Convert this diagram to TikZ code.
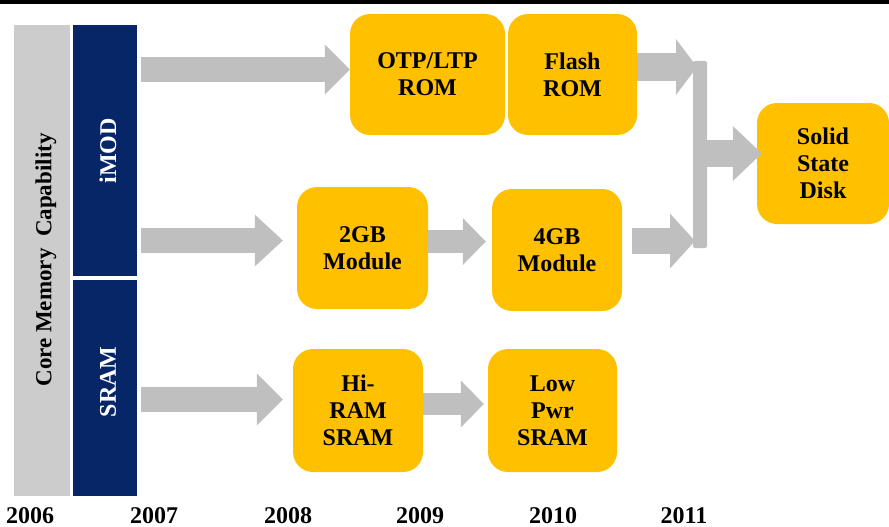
\documentclass[tikz,border=0pt]{standalone}
\usepackage{fontspec}
\setmainfont{Liberation Serif}
\usetikzlibrary{arrows.meta}
\definecolor{ygold}{HTML}{FFC000}
\definecolor{agray}{HTML}{BFBFBF}
\definecolor{cgray}{HTML}{CCCCCC}
\definecolor{navyc}{HTML}{062668}
\begin{document}
\begin{tikzpicture}[x=1pt,y=-1pt,
  box/.style={fill=ygold, rounded corners=20pt, align=center, inner sep=0pt,
    font=\bfseries\fontsize{24}{27}\selectfont},
  blk/.style n args={3}{draw=agray, line width=#1,
    -{Triangle[length=#2, width=#3, line width=0pt]}},
  navybox/.style={fill=navyc, inner sep=0pt, rotate=90, minimum height=64pt,
    text=white, font=\bfseries\fontsize{23}{27}\selectfont},
  year/.style={anchor=base, inner sep=0pt, font=\bfseries\fontsize{24}{28}\selectfont}]
\useasboundingbox (0,0) rectangle (889,527);
% top bar
\fill[black] (0,0) rectangle (889,4);
% left columns
\node[fill=cgray, rotate=90, minimum width=471pt, minimum height=56pt, inner sep=0pt] (core) at (42,260.5) {};
\node[rotate=90, inner sep=0pt, font=\bfseries\fontsize{23}{27}\selectfont] (coret) at (46,260) {Core Memory\ \ Capability};
\node[navybox, minimum width=251pt] (imod) at (105,150.5) {};
\node[rotate=90, inner sep=0pt, text=white, font=\bfseries\fontsize{24}{27}\selectfont] (imodt) at (108,151) {iMOD};
\node[navybox, minimum width=216pt] (sram) at (105,388) {};
\node[rotate=90, inner sep=0pt, text=white, font=\bfseries\fontsize{24}{27}\selectfont] (sramt) at (108,382) {SRAM};
\coordinate (navyR) at (137,0);
% boxes
\node[box, minimum width=155pt, minimum height=121pt] (otp) at (427.5,74.5) {OTP/LTP\\ROM};
\node[box, minimum width=129pt, minimum height=121pt] (flash) at (572.5,74.5) {Flash\\ROM};
\node[box, minimum width=131pt, minimum height=122pt] (m2) at (362.5,248) {2GB\\Module};
\node[box, minimum width=130pt, minimum height=122pt] (m4) at (557,250) {4GB\\Module};
\node[box, minimum width=130pt, minimum height=123pt] (hiram) at (358,410.5) {Hi-\\RAM\\SRAM};
\node[box, minimum width=129pt, minimum height=123pt] (lowp) at (552.5,410.5) {Low\\Pwr\\SRAM};
\node[box, minimum width=132pt, minimum height=121pt] (ssd) at (823,163.5) {Solid\\State\\Disk};
% arrows
\draw[blk={25pt}{25pt}{50pt}] ([xshift=4pt]navyR |- 0,69.5) -- (otp.west |- 0,69.5);
\draw[blk={25pt}{28pt}{52pt}] ([xshift=4pt]navyR |- 0,240.5) -- ([xshift=-14pt]m2.west |- 0,240.5);
\draw[blk={25pt}{26pt}{52pt}] ([xshift=4pt]navyR |- 0,399.5) -- ([xshift=-10pt]hiram.west |- 0,399.5);
\draw[blk={23pt}{23pt}{47pt}] (m2.east |- 0,241.5) -- ([xshift=-6pt]m4.west |- 0,241.5);
\draw[blk={22pt}{23pt}{47pt}] (hiram.east |- 0,404) -- ([xshift=-4pt]lowp.west |- 0,404);
% merge
\coordinate (mtop) at (700,61);
\coordinate (mbot) at (700,248);
\fill[agray, rounded corners=2pt] ([xshift=-7pt]mtop) rectangle ([xshift=7pt]mbot);
\draw[blk={28pt}{21pt}{56pt}] (flash.east |- 0,67) -- ([xshift=-3pt]mtop |- 0,67);
\draw[blk={26pt}{25pt}{55pt}] ([xshift=10pt]m4.east |- 0,241) -- ([xshift=-5pt]mtop |- 0,241);
\draw[blk={27pt}{29pt}{55pt}] ([xshift=7pt]mtop |- 0,153.5) -- ([xshift=5pt]ssd.west |- 0,153.5);
% years
\node[year] (y6) at (30,523) {2006};
\node[year] (y7) at (154,523) {2007};
\node[year] (y8) at (288,523) {2008};
\node[year] (y9) at (420,523) {2009};
\node[year] (y10) at (553,523) {2010};
\node[year] (y11) at (684,523) {2011};
\end{tikzpicture}
\end{document}
